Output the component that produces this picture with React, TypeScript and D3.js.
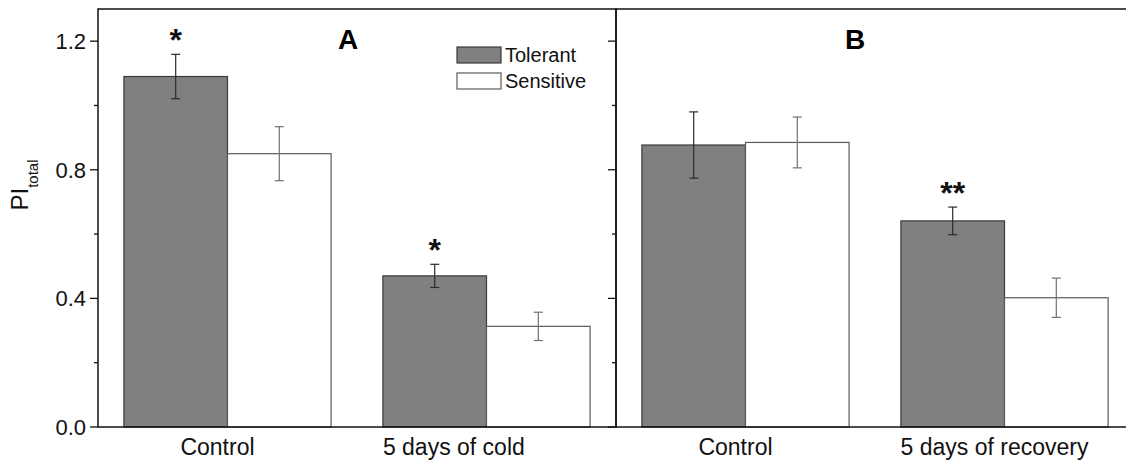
import React from "react";
import * as d3 from "d3";

// Groups and series values (PI_total, mean ± error)
const groupsA = ["Control", "5 days of cold"];
const groupsB = ["Control", "5 days of recovery"];
const seriesNames = ["Tolerant", "Sensitive"];

const tolerantA = [1.09, 0.47];
const tolerantAErr = [0.069, 0.036];
const sensitiveA = [0.85, 0.313];
const sensitiveAErr = [0.084, 0.044];

const tolerantB = [0.877, 0.641];
const tolerantBErr = [0.103, 0.043];
const sensitiveB = [0.885, 0.402];
const sensitiveBErr = [0.079, 0.061];

const signifA = ["*", "*"];
const signifB = ["", "**"];

const majorTicks = [0, 0.4, 0.8, 1.2];
const minorTicks = [0.2, 0.6, 1.0];

const W = 1126;
const H = 468;
const FONT = "'Liberation Sans', Arial, sans-serif";
const plotTop = 9;
const plotBottom = 427;
const panelWidth = 518;
const panelLefts = [98, 616];

const y = d3.scaleLinear().domain([0, 1.3]).range([plotBottom, plotTop]);

const TOL_FILL = "#808080";
const TOL_STROKE = "#3a3a3a";
const SEN_STROKE = "#5a5a5a";

type PanelProps = {
  left: number;
  groups: string[];
  tol: number[];
  tolErr: number[];
  sen: number[];
  senErr: number[];
  signif: string[];
  letter: string;
  labelAnchors: ("middle" | "start")[];
};

function Panel({ left, groups, tol, tolErr, sen, senErr, signif, letter, labelAnchors }: PanelProps) {
  const x0 = d3
    .scaleBand<string>()
    .domain(groups)
    .range([left, left + panelWidth])
    .paddingInner(0.2)
    .paddingOuter(0.1);
  const x1 = d3.scaleBand<string>().domain(seriesNames).range([0, x0.bandwidth()]);
  const bw = x1.bandwidth();

  const items = groups.flatMap((g, i) => [
    { g, s: "Tolerant", v: tol[i], e: tolErr[i], mark: signif[i] },
    { g, s: "Sensitive", v: sen[i], e: senErr[i], mark: "" },
  ]);

  return (
    <g>
      {items.map((d, i) => {
        const bx = (x0(d.g) as number) + (x1(d.s) as number);
        const cx = bx + bw / 2;
        const isTol = d.s === "Tolerant";
        const errColor = isTol ? "#2a2a2a" : "#707070";
        return (
          <g key={i}>
            <rect
              x={bx}
              y={y(d.v)}
              width={bw}
              height={y(0) - y(d.v)}
              fill={isTol ? TOL_FILL : "#ffffff"}
              stroke={isTol ? TOL_STROKE : SEN_STROKE}
              strokeWidth={1.2}
            />
            <line x1={cx} x2={cx} y1={y(d.v + d.e)} y2={y(d.v - d.e)} stroke={errColor} strokeWidth={1.2} />
            <line x1={cx - 4.5} x2={cx + 4.5} y1={y(d.v + d.e)} y2={y(d.v + d.e)} stroke={errColor} strokeWidth={1.2} />
            <line x1={cx - 4.5} x2={cx + 4.5} y1={y(d.v - d.e)} y2={y(d.v - d.e)} stroke={errColor} strokeWidth={1.2} />
            {d.mark && (
              <text
                x={cx}
                y={y(d.v + d.e) - 3}
                textAnchor="middle"
                fontFamily={FONT}
                fontWeight="bold"
                fontSize={32}
                fill="#111"
              >
                {d.mark}
              </text>
            )}
          </g>
        );
      })}
      {groups.map((g, i) => {
        const anchor = labelAnchors[i];
        const lx = anchor === "start" ? (x0(g) as number) : (x0(g) as number) + x0.bandwidth() / 2 - 10;
        return (
          <text key={g + i} x={lx} y={455} textAnchor={anchor} fontFamily={FONT} fontSize={23} fill="#111">
            {g}
          </text>
        );
      })}
      <text
        x={left + (letter === "A" ? 250 : 239)}
        y={49}
        textAnchor="middle"
        fontFamily={FONT}
        fontWeight="bold"
        fontSize={28}
        fill="#000"
      >
        {letter}
      </text>
    </g>
  );
}

function AxisTicks({ x }: { x: number }) {
  return (
    <g stroke="#111" strokeWidth={1.3}>
      {majorTicks.map((t) => (
        <line key={"M" + t} x1={x - 8} x2={x} y1={y(t)} y2={y(t)} />
      ))}
      {minorTicks.map((t) => (
        <line key={"m" + t} x1={x - 4} x2={x} y1={y(t)} y2={y(t)} />
      ))}
    </g>
  );
}

export default function App() {
  const legendItems = seriesNames.map((s, i) => ({ s, i }));
  return (
    <svg
      width={W}
      height={H}
      style={{ position: "absolute", left: 0, top: 0, background: "#fff" }}
      fontFamily={FONT}
    >
      <rect x={0} y={0} width={W} height={H} fill="#fff" />

      <Panel
        left={panelLefts[0]}
        groups={groupsA}
        tol={tolerantA}
        tolErr={tolerantAErr}
        sen={sensitiveA}
        senErr={sensitiveAErr}
        signif={signifA}
        letter="A"
        labelAnchors={["middle", "start"]}
      />
      <Panel
        left={panelLefts[1]}
        groups={groupsB}
        tol={tolerantB}
        tolErr={tolerantBErr}
        sen={sensitiveB}
        senErr={sensitiveBErr}
        signif={signifB}
        letter="B"
        labelAnchors={["middle", "middle"]}
      />

      {/* Frames */}
      {panelLefts.map((l) => (
        <rect
          key={l}
          x={l}
          y={plotTop}
          width={panelWidth}
          height={plotBottom - plotTop}
          fill="none"
          stroke="#111"
          strokeWidth={1.5}
        />
      ))}

      <AxisTicks x={panelLefts[0]} />
      <AxisTicks x={panelLefts[1]} />

      {/* Y tick labels */}
      {majorTicks.map((t) => (
        <text key={t} x={86} y={y(t) + 8} textAnchor="end" fontSize={22} fill="#111">
          {d3.format(".1f")(t)}
        </text>
      ))}

      {/* Y axis title */}
      <text transform={`translate(28, 185) rotate(-90)`} textAnchor="middle" fontSize={24} fill="#111">
        PI
        <tspan fontSize={15} dy={10}>
          total
        </tspan>
      </text>

      {/* Legend */}
      {legendItems.map(({ s, i }) => (
        <g key={s}>
          <rect
            x={457}
            y={47 + i * 26}
            width={44}
            height={16}
            fill={i === 0 ? TOL_FILL : "#fff"}
            stroke={i === 0 ? TOL_STROKE : SEN_STROKE}
            strokeWidth={1.2}
          />
          <text x={505} y={62 + i * 26} fontSize={20} fill="#111">
            {s}
          </text>
        </g>
      ))}
    </svg>
  );
}
